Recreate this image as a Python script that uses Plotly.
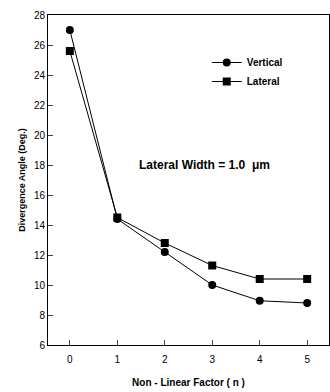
import plotly.graph_objects as go

n_factor = [0, 1, 2, 3, 4, 5]
vertical = [27.0, 14.4, 12.2, 10.0, 8.95, 8.8]
lateral = [25.6, 14.5, 12.8, 11.3, 10.4, 10.4]
y_ticks = [6, 8, 10, 12, 14, 16, 18, 20, 22, 24, 26, 28]
x_ticks = [0, 1, 2, 3, 4, 5]

FONT = "Liberation Sans Narrow, Liberation Sans, Arial"

fig = go.Figure()
fig.add_trace(go.Scatter(x=n_factor, y=vertical, name="<b>Vertical</b>", mode="lines+markers",
                         line=dict(color="black", width=1),
                         marker=dict(symbol="circle", size=8, color="black")))
fig.add_trace(go.Scatter(x=n_factor, y=lateral, name="<b>Lateral</b>", mode="lines+markers",
                         line=dict(color="black", width=1),
                         marker=dict(symbol="square", size=8, color="black")))

fig.add_annotation(x=2.84, y=18, xref="x", yref="y", text="<b>Lateral Width = 1.0  μm</b>",
                   showarrow=False, font=dict(family=FONT, size=12, color="black"))

fig.update_layout(
    width=330, height=392,
    margin=dict(l=48, r=1, t=15, b=47),
    paper_bgcolor="white", plot_bgcolor="white",
    font=dict(family=FONT, size=10, color="black"),
    legend=dict(x=0.565, y=0.90, xanchor="left", yanchor="top",
                bgcolor="rgba(0,0,0,0)", font=dict(family=FONT, size=10),
                itemwidth=30, tracegroupgap=0),
    xaxis=dict(range=[-0.46, 5.46], tickvals=x_ticks, ticks="inside", ticklen=5,
               showline=True, linecolor="black", linewidth=1, mirror=True,
               showgrid=False, zeroline=False, automargin=False, ticklabelstandoff=5,
               title=dict(text="<b>Non - Linear Factor ( n )</b>", font=dict(size=10), standoff=14)),
    yaxis=dict(range=[6, 28], tickvals=y_ticks, ticks="inside", ticklen=5,
               showline=True, linecolor="black", linewidth=1, mirror=True,
               showgrid=False, zeroline=False, automargin=False,
               title=dict(text="<b>Divergence Angle (Deg.)</b>", font=dict(size=9), standoff=6)),
    showlegend=True,
)

fig.write_html("out.html", config={"displayModeBar": False},
               post_script="document.body.style.margin='0';")
